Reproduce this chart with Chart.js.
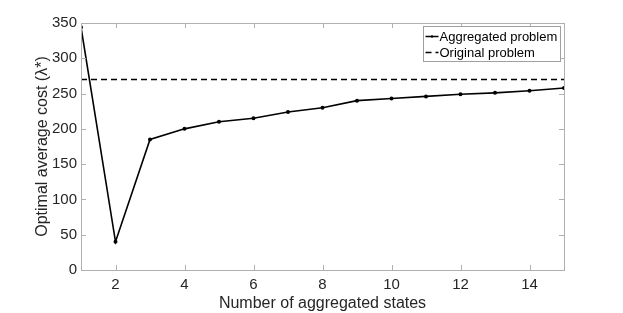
<!DOCTYPE html>
<html>
<head>
<meta charset="utf-8">
<script src="https://cdn.jsdelivr.net/npm/chart.js@4"></script>
<style>
  html, body { margin: 0; padding: 0; background: #fff; }
  #wrap { width: 623px; height: 313px; }
</style>
</head>
<body>
<div id="wrap"><canvas id="costChart" width="623" height="313"></canvas></div>
<script>
const aggStates = [1, 2, 3, 4, 5, 6, 7, 8, 9, 10, 11, 12, 13, 14, 15];
const aggCost = [344, 40, 185, 200, 210, 215, 224, 230, 240, 243, 246, 249, 251, 254, 258];
const originalCost = 270;
const xTicks = [2, 4, 6, 8, 10, 12, 14];
const yTicks = [0, 50, 100, 150, 200, 250, 300, 350];

const axisGrey = '#b0b0b0';
const textColor = '#262626';
const fontFamily = '"Liberation Sans", Arial, Helvetica, sans-serif';

// MATLAB style box with ticks pointing inward
const boxPlugin = {
    id: 'boxPlugin',
    afterDraw(chart) {
        const ctx = chart.ctx;
        const a = chart.chartArea;
        const xs = chart.scales.x;
        const ys = chart.scales.y;
        ctx.save();
        ctx.strokeStyle = axisGrey;
        ctx.lineWidth = 1;
        ctx.strokeRect(Math.round(a.left) + 0.5, Math.round(a.top) + 0.5,
            Math.round(a.right - a.left), Math.round(a.bottom - a.top));
        const len = 5;
        ctx.beginPath();
        xTicks.forEach(v => {
            const px = Math.round(xs.getPixelForValue(v)) + 0.5;
            ctx.moveTo(px, a.bottom); ctx.lineTo(px, a.bottom - len);
            ctx.moveTo(px, a.top); ctx.lineTo(px, a.top + len);
        });
        yTicks.forEach(v => {
            const py = Math.round(ys.getPixelForValue(v)) + 0.5;
            ctx.moveTo(a.left, py); ctx.lineTo(a.left + len, py);
            ctx.moveTo(a.right, py); ctx.lineTo(a.right - len, py);
        });
        ctx.stroke();

        // legend box
        const sets = chart.data.datasets;
        const bx = 423.5, by = 26.5, bw = 137, bh = 35;
        ctx.fillStyle = '#fff';
        ctx.fillRect(bx, by, bw, bh);
        ctx.strokeStyle = '#a0a0a0';
        ctx.strokeRect(bx, by, bw, bh);
        ctx.font = '13px ' + fontFamily;
        ctx.textBaseline = 'middle';
        sets.forEach((ds, i) => {
            const cy = by + 10 + i * 16;
            ctx.strokeStyle = ds.borderColor;
            ctx.lineWidth = 1.5;
            ctx.setLineDash(ds.borderDash || []);
            ctx.beginPath();
            ctx.moveTo(bx + 2, cy);
            ctx.lineTo(bx + 15, cy);
            ctx.stroke();
            ctx.setLineDash([]);
            if (ds.pointRadius > 0) {
                ctx.fillStyle = ds.borderColor;
                ctx.beginPath();
                ctx.arc(bx + 8.5, cy, 1.2, 0, Math.PI * 2);
                ctx.fill();
            }
            ctx.fillStyle = '#000';
            ctx.fillText(ds.label, bx + 16, cy + 1);
        });
        ctx.restore();
    }
};

new Chart(document.getElementById('costChart'), {
    type: 'line',
    data: {
        datasets: [{
            label: 'Aggregated problem',
            data: aggStates.map((s, i) => ({ x: s, y: aggCost[i] })),
            borderColor: '#000',
            backgroundColor: '#000',
            borderWidth: 1.6,
            pointRadius: 1.2,
            pointHoverRadius: 1.2,
            tension: 0
        }, {
            label: 'Original problem',
            data: [{ x: aggStates[0], y: originalCost }, { x: aggStates[aggStates.length - 1], y: originalCost }],
            borderColor: '#000',
            borderWidth: 1.6,
            borderDash: [6, 4],
            pointRadius: 0,
            tension: 0
        }]
    },
    options: {
        responsive: false,
        animation: false,
        layout: { padding: { left: 0, right: 59, top: 23, bottom: 0 } },
        plugins: {
            legend: { display: false },
            tooltip: { enabled: false }
        },
        scales: {
            x: {
                type: 'linear',
                min: 1,
                max: 15,
                afterBuildTicks: scale => { scale.ticks = xTicks.map(v => ({ value: v })); },
                afterFit: scale => { scale.height = 43; },
                grid: { display: false, drawTicks: false },
                border: { display: false },
                ticks: { color: textColor, font: { family: fontFamily, size: 15 }, padding: 6, maxRotation: 0 },
                title: {
                    display: true,
                    text: 'Number of aggregated states',
                    color: textColor,
                    font: { family: fontFamily, size: 16 },
                    padding: { top: 0, bottom: 0 }
                }
            },
            y: {
                min: 0,
                max: 350,
                afterBuildTicks: scale => { scale.ticks = yTicks.map(v => ({ value: v })); },
                afterFit: scale => { scale.width = 81; },
                grid: { display: false, drawTicks: false },
                border: { display: false },
                ticks: { color: textColor, font: { family: fontFamily, size: 15 }, padding: 4 },
                title: {
                    display: true,
                    text: 'Optimal average cost (λ*)',
                    color: textColor,
                    font: { family: fontFamily, size: 16 },
                    padding: { top: 33, bottom: 0 }
                }
            }
        }
    },
    plugins: [boxPlugin]
});
</script>
</body>
</html>
